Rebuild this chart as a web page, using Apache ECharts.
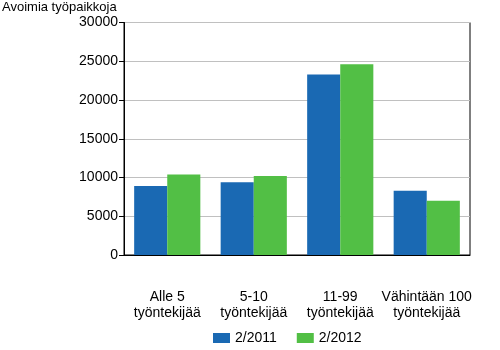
<!DOCTYPE html>
<html>
<head>
<meta charset="utf-8">
<script src="https://cdn.jsdelivr.net/npm/echarts@6/dist/echarts.min.js"></script>
<style>html,body{margin:0;padding:0;background:#fff;}#c{width:500px;height:350px;}</style>
</head>
<body>
<div id="c"></div>
<script>
var categories = ["Alle 5\ntyöntekijää", "5-10\ntyöntekijää", "11-99\ntyöntekijää", "Vähintään 100\ntyöntekijää"];
var series2011 = [8900, 9400, 23300, 8300];
var series2012 = [10400, 10200, 24600, 7000];
var seriesNames = ["2/2011", "2/2012"];
var yTitle = "Avoimia työpaikkoja";

var font = "Arial, 'Liberation Sans', sans-serif";
var chart = echarts.init(document.getElementById('c'), null, {renderer: 'canvas'});
chart.setOption({
  animation: false,
  backgroundColor: '#fff',
  textStyle: {fontFamily: font},
  title: {
    text: yTitle, left: 2, top: 1, padding: 0,
    textStyle: {fontSize: 13, fontWeight: 'normal', color: '#000', fontFamily: font}
  },
  grid: {left: 124, right: 30, top: 22.5, bottom: 95, show: true, borderColor: '#000', borderWidth: 1, containLabel: false},
  legend: {
    data: seriesNames, left: 213, top: 331, itemWidth: 17, itemHeight: 10, itemGap: 20,
    icon: 'rect', padding: 0,
    textStyle: {fontSize: 14, color: '#000', fontFamily: font}
  },
  xAxis: {
    type: 'category', data: categories,
    axisLine: {lineStyle: {color: '#000', width: 1}},
    axisTick: {show: false},
    axisLabel: {fontSize: 14, color: '#000', margin: 34, lineHeight: 16, interval: 0, fontFamily: font}
  },
  yAxis: {
    type: 'value', min: 0, max: 30000, interval: 5000,
    axisLine: {show: true, lineStyle: {color: '#000', width: 1}},
    axisTick: {show: true, length: 5, lineStyle: {color: '#000'}},
    axisLabel: {fontSize: 14, color: '#000', margin: 6, fontFamily: font, formatter: function (v) { return String(v); }},
    splitLine: {lineStyle: {color: '#c0c0c0', width: 1}}
  },
  series: [
    {name: seriesNames[0], type: 'bar', data: series2011, barGap: '0%', barCategoryGap: '23.5%', itemStyle: {color: '#1a69b3'}},
    {name: seriesNames[1], type: 'bar', data: series2012, barGap: '0%', barCategoryGap: '23.5%', itemStyle: {color: '#52bf45'}}
  ]
});
</script>
</body>
</html>
